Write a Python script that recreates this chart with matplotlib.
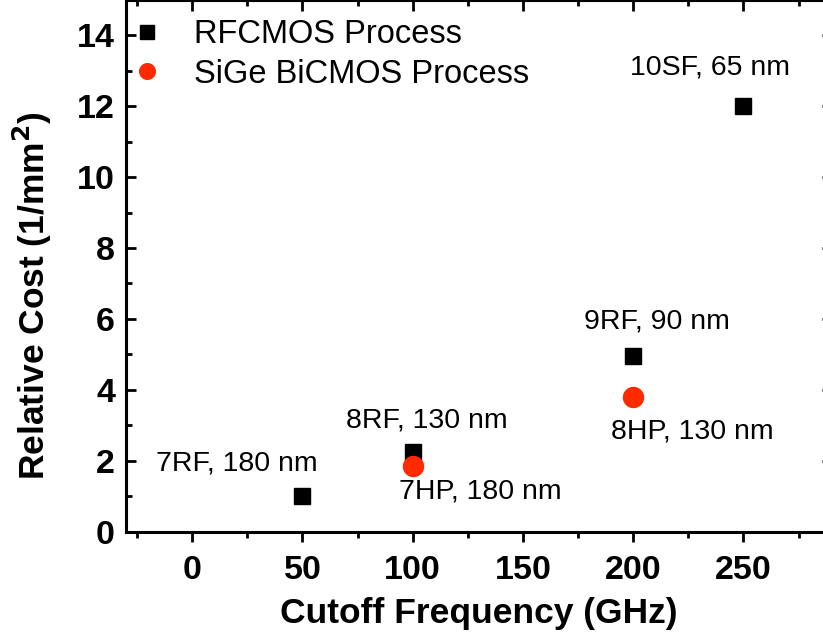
import matplotlib
matplotlib.use("Agg")
import matplotlib.pyplot as plt
from matplotlib.ticker import MultipleLocator

plt.rcParams['font.family'] = ['Liberation Sans', 'DejaVu Sans']

rf_x = [50, 100, 200, 250]
rf_y = [1.0, 2.25, 4.95, 12.0]
sige_x = [100, 200]
sige_y = [1.85, 3.8]

rf_labels = ["7RF, 180 nm", "8RF, 130 nm", "9RF, 90 nm", "10SF, 65 nm"]
rf_label_pos = [(-16.3, 1.93), (69.7, 3.14), (177.5, 5.92), (198.4, 13.1)]
sige_labels = ["7HP, 180 nm", "8HP, 130 nm"]
sige_label_pos = [(93.7, 1.12), (190.0, 2.81)]

red = '#FF2A00'

fig = plt.figure(figsize=(8.23, 6.39), dpi=100)
ax = fig.add_axes([126/823, 1 - 531.5/639, (831.7-126)/823, 531.5/639])

ax.plot(rf_x, rf_y, ls='none', marker='s', ms=12.2, color='black', mec='black', label='RFCMOS Process')
ax.plot(sige_x, sige_y, ls='none', marker='o', ms=14.4, color=red, mec=red, label='SiGe BiCMOS Process')

for t, (x, y) in zip(rf_labels + sige_labels, rf_label_pos + sige_label_pos):
    ax.text(x, y, t, fontsize=20.5, ha='left', va='center')

ax.set_xlim(-30, 290)
ax.set_ylim(0, 15)
ax.xaxis.set_major_locator(MultipleLocator(50))
ax.xaxis.set_minor_locator(MultipleLocator(25))
ax.yaxis.set_major_locator(MultipleLocator(2))
ax.yaxis.set_minor_locator(MultipleLocator(1))

for s in ax.spines.values():
    s.set_linewidth(2.2)

ax.tick_params(axis='x', which='both', direction='out', width=2, bottom=True, top=False)
ax.tick_params(axis='x', which='major', length=7.5, labelsize=24.5, pad=9.5)
ax.tick_params(axis='x', which='minor', length=4)
ax.tick_params(axis='y', which='both', direction='in', width=2, left=True, right=True)
ax.tick_params(axis='y', which='major', length=7, labelsize=24.5, pad=8)
ax.tick_params(axis='y', which='minor', length=4)
for lab in ax.get_xticklabels() + ax.get_yticklabels():
    lab.set_fontweight('bold')

sec = ax.secondary_xaxis('top')
sec.xaxis.set_major_locator(MultipleLocator(50))
sec.xaxis.set_minor_locator(MultipleLocator(25))
sec.tick_params(axis='x', which='both', direction='in', width=2, labeltop=False)
sec.tick_params(axis='x', which='major', length=8)
sec.tick_params(axis='x', which='minor', length=4)
sec.spines['top'].set_linewidth(2.2)

ax.set_xlabel('Cutoff Frequency (GHz)', fontsize=25.5, fontweight='bold', labelpad=8)
ax.set_ylabel('Relative Cost (1/mm$^\\mathbf{2}$)', fontsize=25.5, fontweight='bold')
ax.yaxis.set_label_coords((54 - 126) / 705.7, (531.5 - 296) / 531.5)

leg = ax.legend(loc='upper left', bbox_to_anchor=((130.7 - 126) / 705.7, 1 - 19 / 531.5),
                frameon=False, fontsize=23.5, borderpad=0, borderaxespad=0,
                handlelength=1.0, handletextpad=0.94, labelspacing=0.27,
                markerscale=0.78)

fig.savefig('out.png', dpi=100)
